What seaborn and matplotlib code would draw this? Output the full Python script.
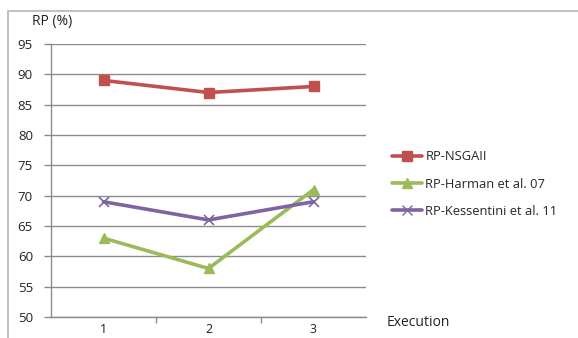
import matplotlib
matplotlib.use("Agg")
import matplotlib.pyplot as plt
import seaborn as sns
import pandas as pd
from matplotlib.patches import Rectangle
from matplotlib.lines import Line2D

# Recognition precision per execution
executions = [1, 2, 3]
rp_nsgaii = [89, 87, 88]
rp_harman = [63, 58, 71]
rp_kessentini = [69, 66, 69]
series_names = ["RP-NSGAII", "RP-Harman et al. 07", "RP-Kessentini et al. 11"]
y_ticks = [50, 55, 60, 65, 70, 75, 80, 85, 90, 95]

df = pd.DataFrame({
    "Execution": executions * 3,
    "RP": rp_nsgaii + rp_harman + rp_kessentini,
    "Series": [series_names[0]] * 3 + [series_names[1]] * 3 + [series_names[2]] * 3,
})

sns.set_theme(style="white")
plt.rcParams["font.family"] = ["Open Sans", "DejaVu Sans"]

W, H = 578, 338
fig = plt.figure(figsize=(W / 100, H / 100), dpi=100)
ax = fig.add_axes([51 / W, 1 - 317 / H, (366 - 51) / W, (317 - 44) / H])

colors = {series_names[0]: "#C0504D", series_names[1]: "#9BBB59", series_names[2]: "#8064A2"}
markers = {series_names[0]: "s", series_names[1]: "^", series_names[2]: "x"}

for name in series_names:
    sub = df[df["Series"] == name]
    sns.lineplot(data=sub, x="Execution", y="RP", ax=ax, color=colors[name],
                 linewidth=2.6, marker=markers[name], markersize=7,
                 markeredgecolor=colors[name], markeredgewidth=1.0 if markers[name] != "x" else 1.2,
                 legend=False)

ax.set_xlim(0.5, 3.5)
ax.set_ylim(50, 95)
ax.set_yticks(y_ticks)
ax.set_yticklabels([str(v) for v in y_ticks], fontsize=9.5, color="#222222")
ax.set_xticks(executions)
ax.set_xticklabels([str(v) for v in executions], fontsize=9, color="#222222")
ax.tick_params(axis="x", length=0, pad=4)
ax.tick_params(axis="y", length=5, width=1, color="#8a8a8a", pad=8, left=True)
# small ticks between categories on the x axis
ax.set_xticks([1.5, 2.5], minor=True)
ax.tick_params(axis="x", which="minor", length=4, width=1, color="#8a8a8a", bottom=True, direction="out")
ax.set_xlabel("")
ax.set_ylabel("")

ax.grid(axis="y", color="#8c8c8c", linewidth=1)
ax.grid(axis="x", visible=False)
for s in ["top", "right"]:
    ax.spines[s].set_visible(False)
ax.spines["left"].set_color("#8c8c8c")
ax.spines["bottom"].set_color("#8c8c8c")
ax.spines["left"].set_linewidth(1)
ax.spines["bottom"].set_linewidth(1)
ax.set_axisbelow(True)

# outer chart border
fig.patches.append(Rectangle((8 / W, -0.1), 1.2, 1.1 - 10.5 / H, transform=fig.transFigure,
                             fill=False, edgecolor="#b5b5b5", linewidth=1.2))

fig.text(32 / W, 1 - 22 / H, "RP (%)", fontsize=10, color="#222222", va="center", ha="left")
fig.text(387 / W, 1 - 323 / H, "Execution", fontsize=10, color="#222222", va="center", ha="left")

handles = [Line2D([0], [0], color=colors[n], linewidth=2.6, marker=markers[n], markersize=7,
                  markeredgecolor=colors[n]) for n in series_names]
fig.legend(handles, series_names, loc="center left", bbox_to_anchor=(386 / W, 1 - 184 / H),
           frameon=False, fontsize=9.3, handlelength=2.3, handletextpad=0.25, labelspacing=1.1,
           borderpad=0)

fig.savefig("out.png", dpi=100)
